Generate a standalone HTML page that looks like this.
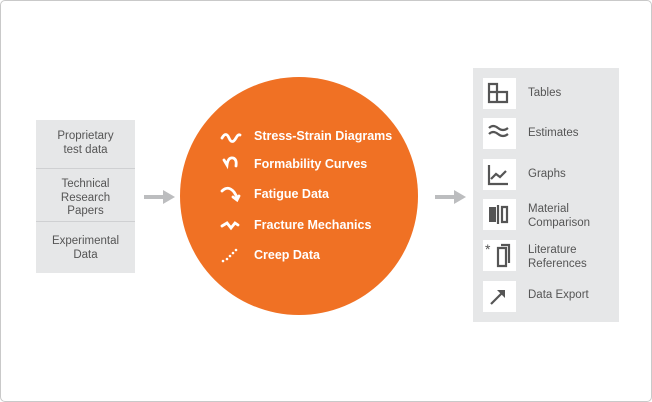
<!DOCTYPE html>
<html><head><style>
body{margin:0;width:652px;height:402px;background:#fff;font-family:"Liberation Sans",sans-serif;overflow:hidden}
.t{position:absolute;font-size:11.5px;color:#555;text-align:center;line-height:13.5px}
.r{position:absolute;font-size:11.5px;color:#555;line-height:13.5px;left:528px}
.c{position:absolute;left:254px;color:#fff;font-weight:bold;font-size:12.5px}
</style></head><body>
<div style="position:absolute;left:0;top:0;width:650px;height:400px;border:1px solid #c9c9c9;border-radius:5px"></div>
<div style="position:absolute;left:36px;top:120px;width:99px;height:153px;background:#e6e7e8"></div>
<div style="position:absolute;left:36px;top:168px;width:99px;height:1px;background:#cfd0d2"></div>
<div style="position:absolute;left:36px;top:221px;width:99px;height:1px;background:#cfd0d2"></div>
<div class="t" style="left:36px;width:99px;top:130px">Proprietary<br>test data</div>
<div class="t" style="left:36px;width:99px;top:178px">Technical<br>Research<br>Papers</div>
<div class="t" style="left:36px;width:99px;top:235px">Experimental<br>Data</div>
<svg style="position:absolute;left:0;top:0" width="652" height="402">
<rect x="144" y="195" width="20" height="4" fill="#bcbdbf"/><polygon points="163,190 175,197 163,204" fill="#bcbdbf"/>
<rect x="435" y="195" width="20" height="4" fill="#bcbdbf"/><polygon points="454,190 466,197 454,204" fill="#bcbdbf"/>
<circle cx="299" cy="196" r="119" fill="#f07124"/>
<g stroke="#fff" stroke-width="2.8" fill="none" stroke-linecap="round">
<path d="M222 138 q4 -7 7 0 q3 7 7 0 q2 -4 4 -3"/>
<path d="M224 160 l3 5 q1 -8 6 -7 q4 1 3 8"/>
<path d="M222 191 q6 -6 12 1 l3 5 M233 197 l4 3 l2 -4"/>
<path d="M222 226 l5 -3 l4 5 l4 -5 l3 2"/>
</g>
<g fill="#fff"><circle cx="223" cy="261" r="1.3"/><circle cx="227" cy="259" r="1.3"/><circle cx="230" cy="256" r="1.3"/><circle cx="233" cy="253" r="1.3"/><circle cx="236" cy="250" r="1.3"/></g>
<rect x="473" y="68" width="146" height="254" fill="#e6e7e8"/>
<g fill="#fff"><rect x="483" y="78" width="33" height="31"/><rect x="483" y="118" width="33" height="31"/><rect x="483" y="159" width="33" height="31"/><rect x="483" y="199" width="33" height="31"/><rect x="483" y="240" width="33" height="31"/><rect x="483" y="281" width="33" height="31"/></g>
<g stroke="#555" stroke-width="2.2" fill="none">
<path d="M489 84 h8 v8 h10 v10 h-18 z M489 92 h8 v10"/>
<path d="M489 128 q4 -4 9 0 q5 4 10 0 M489 134 q4 -4 9 0 q5 4 10 0"/>
<path d="M489 165 v19 h19 M491 179 l5 -5 l4 3 l6 -6"/>
<path d="M498 205 v19 M502 207 h5 v15 h-5 z"/>
<path d="M498 248 h8 v18 h-8 z M501 245 h8 v18"/>
<path d="M491 304 l12 -12"/>
</g>
<rect x="489" y="207" width="7" height="15" fill="#555"/>
<polygon points="497,290 505,290 505,298" fill="#555"/>
<text x="485" y="254" font-size="14" fill="#555" font-family="Liberation Sans">*</text>
</svg>
<div class="c" style="top:129px">Stress-Strain Diagrams</div>
<div class="c" style="top:157px">Formability Curves</div>
<div class="c" style="top:187px">Fatigue Data</div>
<div class="c" style="top:218px">Fracture Mechanics</div>
<div class="c" style="top:248px">Creep Data</div>
<div class="r" style="top:87px">Tables</div>
<div class="r" style="top:127px">Estimates</div>
<div class="r" style="top:168px">Graphs</div>
<div class="r" style="top:203px">Material<br>Comparison</div>
<div class="r" style="top:244px">Literature<br>References</div>
<div class="r" style="top:289px">Data Export</div>
</body></html>
